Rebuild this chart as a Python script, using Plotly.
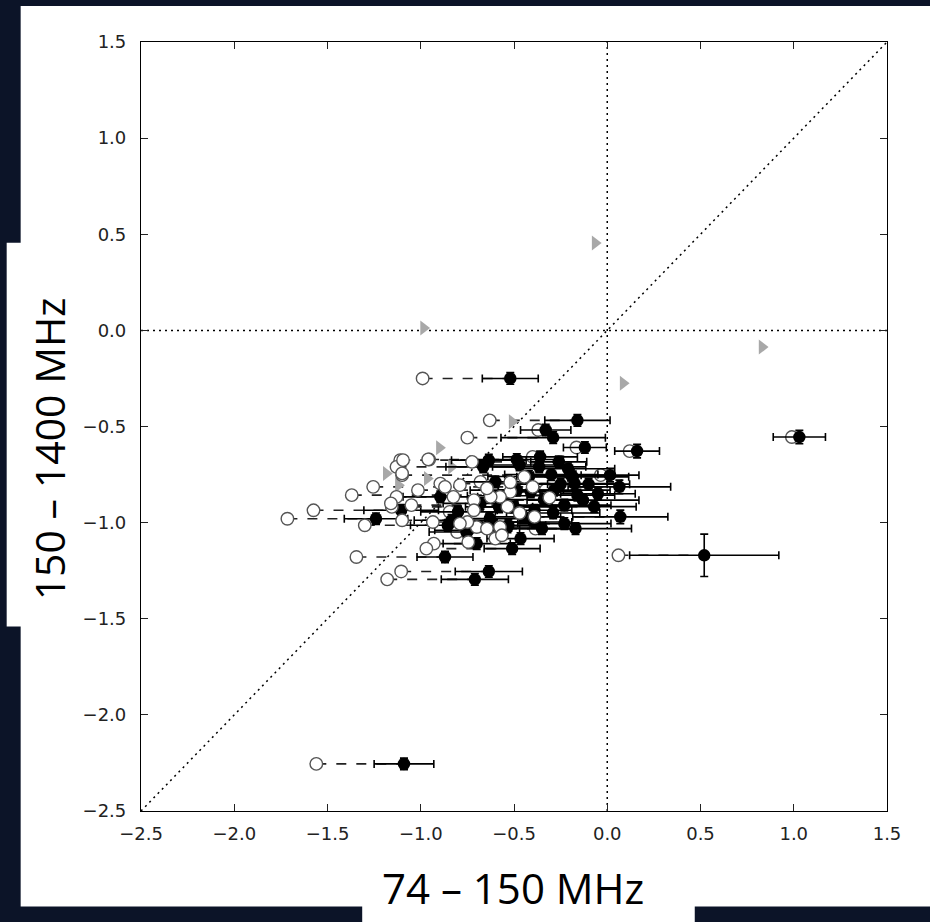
import plotly.graph_objects as go

# ---------------- data ----------------
# filled sources: x (74-150 MHz index), y (150-1400 MHz index), x error, y error,
# and x of the paired open circle (None = no visible partner)
FILLED_X = [-0.52, -1.09, 0.52, 1.03, 0.16, -0.16, -0.33, -0.29, -0.12, -0.635,
            -0.485, -0.36, -0.26, -0.665, -0.365, -0.195, 0.015, -0.185, -0.175, 0.065,
            -0.60, -0.485, -0.41, -0.285, -0.16, -0.13, -0.07, -0.23, -0.39, -0.50,
            -0.58, -0.62, -0.535, -0.39, -0.23, -0.17, 0.07, -1.24, -1.105, -0.895,
            -0.80, -0.755, -0.70, -0.51, -0.87, -0.635, -0.71, -0.835, -0.465, -0.35,
            -0.855, -0.63,
            -0.53, -0.745, -0.47, -0.30, -0.25, -0.34, -0.45, -0.29, -0.10, -0.05,
            -0.55, -0.42, -0.21, -0.68]
FILLED_Y = [-0.25, -2.255, -1.17, -0.555, -0.628, -0.468, -0.518, -0.558, -0.609, -0.675,
            -0.672, -0.658, -0.684, -0.71, -0.71, -0.753, -0.753, -0.762, -0.797, -0.814,
            -0.788, -0.831, -0.84, -0.831, -0.857, -0.883, -0.917, -0.909, -0.936, -0.918,
            -0.918, -0.997, -1.023, -0.997, -1.005, -1.031, -0.97, -0.98, -0.936, -0.866,
            -0.944, -1.049, -1.109, -1.135, -1.179, -1.254, -1.295, -0.988, -1.083, -1.031,
            -1.014, -0.979,
            -1.014, -1.04, -0.70, -0.75, -0.80, -0.88, -0.97, -0.95, -0.80, -0.85,
            -0.86, -0.76, -0.72, -0.90]
FILLED_XERR = [0.15, 0.16, 0.40, 0.14, 0.12, 0.175, 0.135, 0.28, 0.115, 0.20,
               0.25, 0.20, 0.15, 0.20, 0.25, 0.20, 0.155, 0.30, 0.25, 0.275,
               0.20, 0.25, 0.25, 0.30, 0.20, 0.30, 0.225, 0.25, 0.20, 0.20,
               0.18, 0.20, 0.20, 0.20, 0.25, 0.30, 0.255, 0.17, 0.20, 0.20,
               0.20, 0.20, 0.18, 0.15, 0.15, 0.18, 0.18, 0.20, 0.18, 0.20,
               0.20, 0.20,
               0.20, 0.18, 0.22, 0.25, 0.25, 0.22, 0.20, 0.25, 0.22, 0.20,
               0.20, 0.22, 0.25, 0.20]
FILLED_YERR = [0.03, 0.03, 0.11, 0.035, 0.035, 0.03, 0.03, 0.03, 0.03, 0.03,
               0.03, 0.03, 0.03, 0.03, 0.03, 0.03, 0.035, 0.03, 0.03, 0.035,
               0.03, 0.03, 0.03, 0.03, 0.03, 0.03, 0.03, 0.03, 0.03, 0.03,
               0.03, 0.03, 0.03, 0.03, 0.03, 0.03, 0.035, 0.03, 0.03, 0.03,
               0.03, 0.03, 0.03, 0.03, 0.03, 0.03, 0.03, 0.03, 0.03, 0.03,
               0.03, 0.03,
               0.03, 0.03, 0.03, 0.03, 0.03, 0.03, 0.03, 0.03, 0.03, 0.03,
               0.03, 0.03, 0.03, 0.03]
PAIRED_OPEN_X = [-0.99, -1.56, 0.06, 0.99, 0.12, -0.63, -0.37, -0.75, -0.165, -1.11,
                 -0.955, -0.40, -0.725, -1.13, None, -1.10, -0.035, -0.445, -0.895, -1.255,
                 -0.68, -1.015, -0.52, -0.33, -1.37, -0.715, -0.535, -1.05, -0.715, -1.155,
                 None, -0.935, -0.70, -0.75, -0.79, -0.645, -0.39, -1.715, -1.575, -1.13,
                 -0.845, -0.805, -0.93, -0.97, -1.345, -1.105, -1.18, -1.10, -0.60, -0.385,
                 -1.30, None,
                 None, None, None, None, None, None, None, None, None, None,
                 None, None, None, None]

# open circles without a visible partner
OPEN_X = [-0.575, -0.625, -0.825, -0.79, -0.87, -0.645, -0.40, -0.575, -0.565, -0.745,
          -0.96, -1.095, -1.10, -1.16, -0.47, -0.31, -0.52]
OPEN_Y = [-0.866, -0.866, -0.866, -0.805, -0.814, -0.822, -0.814, -1.023, -1.066, -1.101,
          -0.671, -0.675, -0.744, -0.90, -0.95, -0.87, -0.79]

# grey triangles (limits)
TRI_X = [-0.065, 0.83, 0.085, -0.985, -0.90, -0.51, -1.185, -1.12, -0.835, -0.965]
TRI_Y = [0.455, -0.087, -0.275, 0.012, -0.611, -0.475, -0.744, -0.805, -0.71, -0.77]

AXIS_RANGE = [-2.5, 1.5]
TICKS = [-2.5, -2.0, -1.5, -1.0, -0.5, 0.0, 0.5, 1.0, 1.5]
TICK_LABELS = ["\u22122.5", "\u22122.0", "\u22121.5", "\u22121.0", "\u22120.5",
               "0.0", "0.5", "1.0", "1.5"]
X_TITLE = "74 \u2013 150 MHz"
Y_TITLE = "150 \u2013 1400 MHz"

# ---------------- figure ----------------
NAVY = "#0c1428"
fig = go.Figure()

# reference lines: x = 0, y = 0, y = x
dotted = dict(color="black", width=1.5, dash="2px,4px")
fig.add_trace(go.Scatter(x=[0, 0], y=AXIS_RANGE, mode="lines", line=dotted,
                         hoverinfo="skip", showlegend=False))
fig.add_trace(go.Scatter(x=AXIS_RANGE, y=[0, 0], mode="lines", line=dotted,
                         hoverinfo="skip", showlegend=False))
fig.add_trace(go.Scatter(x=AXIS_RANGE, y=AXIS_RANGE, mode="lines", line=dotted,
                         hoverinfo="skip", showlegend=False))

# dashed connectors open -> filled
cx, cy = [], []
for xf, y, xo in zip(FILLED_X, FILLED_Y, PAIRED_OPEN_X):
    if xo is None:
        continue
    cx += [xo, xf, None]
    cy += [y, y, None]
fig.add_trace(go.Scatter(x=cx, y=cy, mode="lines",
                         line=dict(color="#222222", width=1.6, dash="10px,10px"),
                         hoverinfo="skip", showlegend=False))

# triangles
fig.add_trace(go.Scatter(x=TRI_X, y=TRI_Y, mode="markers",
                         marker=dict(symbol="triangle-right", size=13, color="#a8a8a8",
                                     line=dict(width=0)),
                         showlegend=False))

open_marker = dict(symbol="circle", size=12.5, color="white",
                   line=dict(color="#555555", width=1.4))

# open circles that sit right next to their partner (drawn beneath it)
near_x, near_y, far_x, far_y = [], [], [], []
for xf, y, xo in zip(FILLED_X, FILLED_Y, PAIRED_OPEN_X):
    if xo is None:
        continue
    if abs(xf - xo) < 0.1:
        near_x.append(xo); near_y.append(y)
    else:
        far_x.append(xo); far_y.append(y)
far_x += OPEN_X
far_y += OPEN_Y

fig.add_trace(go.Scatter(x=near_x, y=near_y, mode="markers", marker=open_marker,
                         showlegend=False))

# filled points with error bars
fig.add_trace(go.Scatter(
    x=FILLED_X, y=FILLED_Y, mode="markers",
    marker=dict(symbol="circle", size=12.5, color="black", line=dict(width=0)),
    error_x=dict(type="data", array=FILLED_XERR, color="black", thickness=1.6, width=4),
    error_y=dict(type="data", array=FILLED_YERR, color="black", thickness=1.6, width=4),
    showlegend=False))

fig.add_trace(go.Scatter(x=far_x, y=far_y, mode="markers", marker=open_marker,
                         showlegend=False))

# ---------------- layout ----------------
L, R, T, B = 140.5, 887.5, 42.0, 811.5
W, H = 930, 922
pw, ph = R - L, B - T


def px(xp):
    return (xp - L) / pw


def py(yp):
    return (B - yp) / ph


axis_common = dict(
    range=[AXIS_RANGE[0] - 1e-6, AXIS_RANGE[1] + 1e-6],
    tickmode="array", tickvals=TICKS, ticktext=TICK_LABELS,
    ticks="inside", ticklen=7, tickwidth=1, tickcolor="#222222",
    showline=True, linecolor="black", linewidth=1.2, mirror="allticks",
    showgrid=False, zeroline=False,
    tickfont=dict(family="DejaVu Sans", size=18, color="#222222"),
)

fig.update_layout(
    width=W, height=H,
    margin=dict(l=L, r=W - R, t=T, b=H - B, pad=0),
    paper_bgcolor=NAVY, plot_bgcolor="white",
    xaxis=dict(axis_common, ticklabelstandoff=6),
    yaxis=dict(axis_common, ticklabelstandoff=10),
    showlegend=False,
    shapes=[
        # white slide panel
        dict(type="rect", xref="paper", yref="paper", layer="below",
             x0=px(20), x1=px(940), y0=py(907), y1=py(6),
             fillcolor="white", line=dict(width=0)),
        # y-label box
        dict(type="rect", xref="paper", yref="paper", layer="below",
             x0=px(6), x1=px(60), y0=py(627), y1=py(243),
             fillcolor="white", line=dict(width=0)),
        # x-label box
        dict(type="rect", xref="paper", yref="paper", layer="below",
             x0=px(362), x1=px(695), y0=py(930), y1=py(870),
             fillcolor="white", line=dict(width=0)),
    ],
    annotations=[
        dict(text=X_TITLE, xref="paper", yref="paper", x=px(513), y=py(888),
             xanchor="center", yanchor="middle", showarrow=False,
             font=dict(family="Open Sans", size=42, color="black")),
        dict(text=Y_TITLE, xref="paper", yref="paper", x=px(48), y=py(449),
             xanchor="center", yanchor="middle", showarrow=False, textangle=-90,
             font=dict(family="Open Sans", size=41, color="black")),
    ],
)

fig.write_html("out.html")
